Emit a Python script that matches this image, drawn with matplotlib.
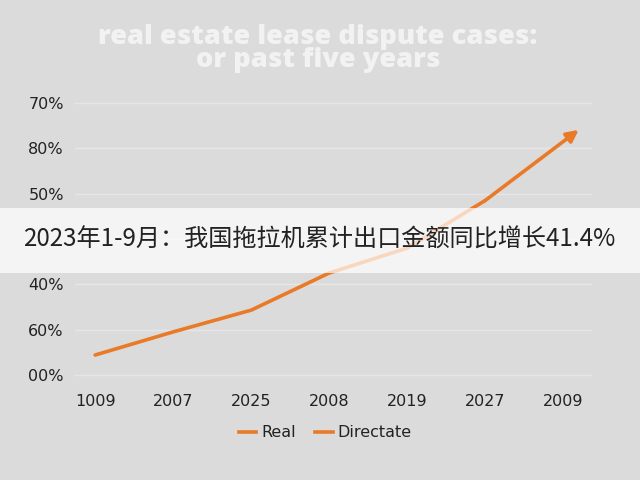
import matplotlib
matplotlib.use("Agg")
import matplotlib.pyplot as plt
from matplotlib.lines import Line2D
from matplotlib.patches import Rectangle

# chart data
years = ["1009", "2007", "2025", "2008", "2019", "2027", "2009"]
real_values = [0.44, 0.95, 1.43, 2.25, 2.80, 3.85, 5.15]
y_ticks = [0, 1, 2, 3, 4, 5, 6]
y_tick_labels = ["00%", "60%", "40%", "", "50%", "80%", "70%"]
legend_labels = ["Real", "Directate"]
title = "real estate lease dispute cases:\nor past five years"
banner = "2023年1-9月：我国拖拉机累计出口金额同比增长41.4%"

orange = "#e87a28"
bg = "#dbdbdb"

fig = plt.figure(figsize=(6.4, 4.8), dpi=100, facecolor=bg)
ax = fig.add_axes([0.117, 0.2, 0.808, 0.604])
ax.set_facecolor(bg)

x = list(range(len(years)))
ax.plot(x[:-1], real_values[:-1], color=orange, lw=2.6, solid_capstyle="round", zorder=3)
# last segment ends in an arrow head, pushed slightly past the final point
tip_x = x[-1] + 0.2 * (x[-1] - x[-2])
tip_y = real_values[-1] + 0.2 * (real_values[-1] - real_values[-2])
ax.annotate("", xy=(tip_x, tip_y), xytext=(x[-2], real_values[-2]),
            arrowprops=dict(arrowstyle="-|>,head_length=0.7,head_width=0.35",
                            color=orange, lw=2.6, shrinkA=0, shrinkB=0), zorder=3)

ax.set_xlim(-0.26, 6.37)
ax.set_ylim(-0.2, 6.2)
ax.set_xticks(x)
ax.set_xticklabels(years)
ax.set_yticks(y_ticks)
ax.set_yticklabels(y_tick_labels)
ax.grid(axis="y", color="#e6e6e6", lw=1)
ax.set_axisbelow(True)
for s in ax.spines.values():
    s.set_visible(False)
ax.tick_params(length=0, labelsize=11.5, labelcolor="#222222")
ax.tick_params(axis="x", pad=7)
ax.tick_params(axis="y", pad=8)
for lbl in ax.get_xticklabels() + ax.get_yticklabels():
    lbl.set_family("DejaVu Sans")

handles = [Line2D([], [], color=orange, lw=2.6) for _ in legend_labels]
leg = fig.legend(handles, legend_labels, loc="center", bbox_to_anchor=(0.508, 0.098),
                 ncol=2, frameon=False, handlelength=1.1, handletextpad=0.3,
                 columnspacing=1.2, prop={"family": "DejaVu Sans", "size": 11.5})
for t in leg.get_texts():
    t.set_color("#222222")

fig.text(0.497, 0.899, title, ha="center", va="center", color="#f2f2f2",
         fontsize=19.6, fontweight=800, family="Open Sans", linespacing=0.86)

# translucent caption strip across the middle
fig.patches.append(Rectangle((0, 0.431), 1, 0.136, transform=fig.transFigure,
                             facecolor="white", alpha=0.7, edgecolor="none", zorder=5))
fig.text(0.036, 0.5, banner, ha="left", va="center", color="#222222", fontsize=17.4,
         family=["Noto Sans CJK SC", "DejaVu Sans"], zorder=6)

fig.savefig("out.png", dpi=100, facecolor=bg)
